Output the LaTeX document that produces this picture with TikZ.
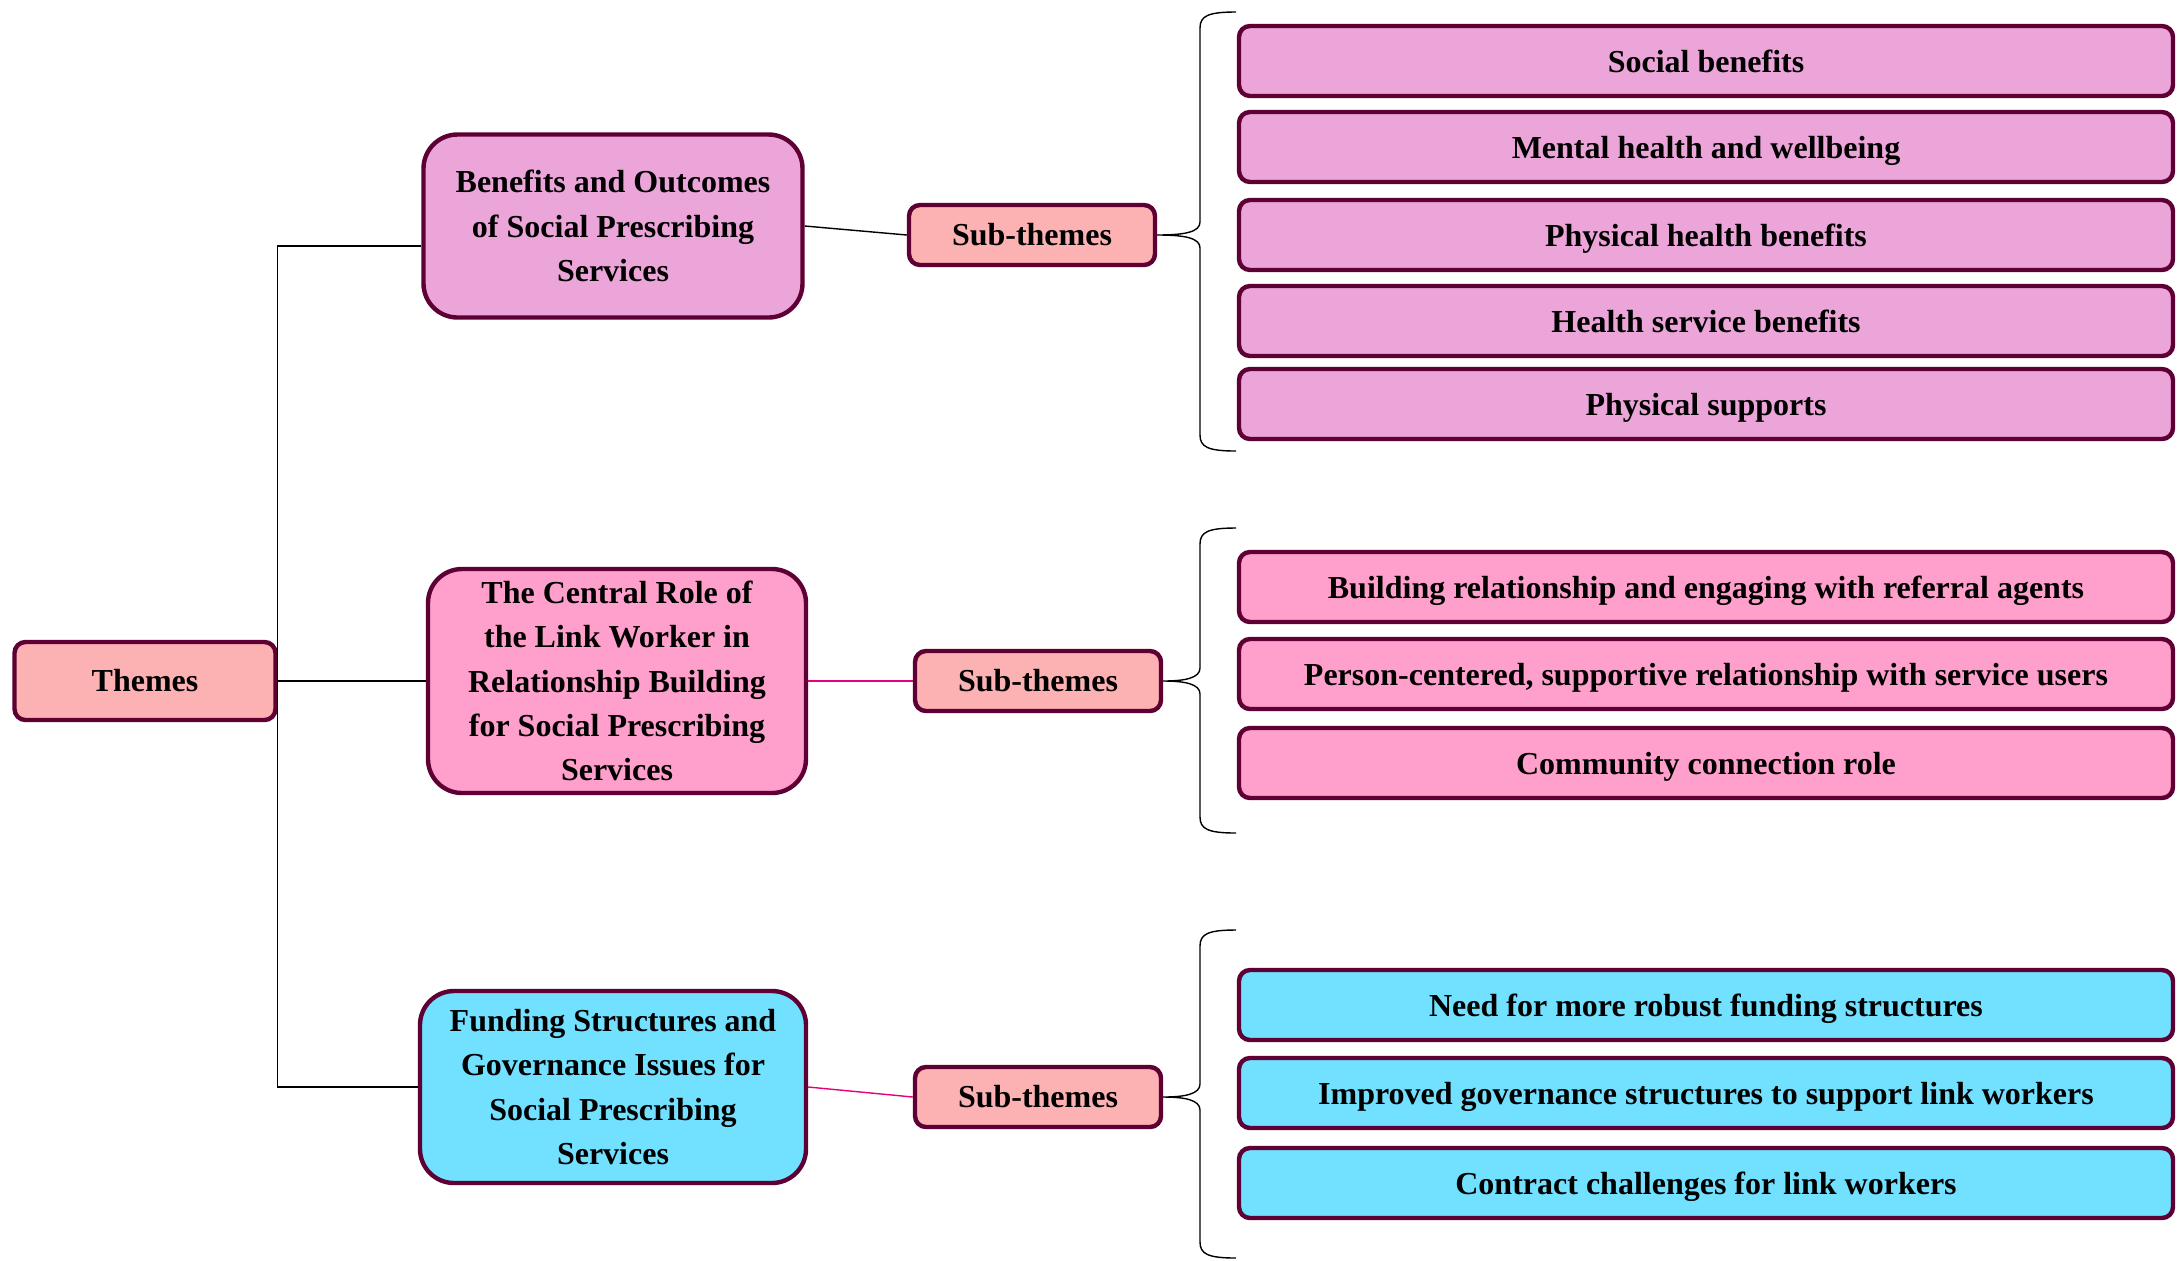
\documentclass[tikz,border=0pt]{standalone}
\usepackage{fontspec}
\setmainfont{Liberation Serif}
\definecolor{boxline}{HTML}{5E0033}
\definecolor{salmon}{HTML}{FCB2B2}
\definecolor{lilac}{HTML}{EBA5D9}
\definecolor{rose}{HTML}{FF9FCC}
\definecolor{aqua}{HTML}{72E0FF}
\definecolor{linkpink}{HTML}{E6007E}
\tikzset{
  box/.style={draw=boxline, line width=2.2pt, rounded corners=5.5pt, align=center,
    inner sep=0pt, font=\bfseries\fontsize{16}{22.2}\selectfont},
  theme/.style={box, rounded corners=17pt},
  subbox/.style={box, fill=salmon, minimum width=123pt, minimum height=30pt},
  item/.style={box, minimum width=467pt, minimum height=35pt, text depth=0pt},
  link/.style={line width=0.7pt},
}
\begin{document}
\begin{tikzpicture}[x=0.5pt,y=-0.5pt]
    \useasboundingbox (0,0) rectangle (2177,1260);
    % main themes
    \node[box, fill=salmon, minimum width=130.5pt, minimum height=39pt] (themes) at (145,681) {Themes};
    \node[theme, fill=lilac, minimum width=189.5pt, minimum height=91.5pt] (theme1) at (613,226)
        {Benefits and Outcomes\\of Social Prescribing\\Services};
    \node[theme, fill=rose, minimum width=189pt, minimum height=112pt] (theme2) at (617,681)
        {The Central Role of\\the Link Worker in\\Relationship Building\\for Social Prescribing\\Services};
    \node[theme, fill=aqua, minimum width=193pt, minimum height=96pt] (theme3) at (613,1087)
        {Funding Structures and\\Governance Issues for\\Social Prescribing\\Services};
    % sub-themes
    \node[subbox] (sub1) at (1032,235) {Sub-themes};
    \node[subbox] (sub2) at (1038,681) {Sub-themes};
    \node[subbox] (sub3) at (1038,1097) {Sub-themes};
    % items
    \foreach \y/\t [count=\i] in {61/Social benefits, 147/Mental health and wellbeing,
        235/Physical health benefits, 321/Health service benefits, 404/Physical supports}
        \node[item, fill=lilac] (a\i) at (1706,\y) {\t};
    \foreach \y/\t [count=\i] in {587/Building relationship and engaging with referral agents,
        674/{Person-centered, supportive relationship with service users}, 763/Community connection role}
        \node[item, fill=rose] (b\i) at (1706,\y) {\t};
    \foreach \y/\t [count=\i] in {1005/Need for more robust funding structures,
        1093/Improved governance structures to support link workers, 1183/Contract challenges for link workers}
        \node[item, fill=aqua] (c\i) at (1706,\y) {\t};
    % connectors
    \draw[link] (themes.east) -- (theme2.west);
    \draw[link] ([yshift=-10pt]theme1.west) -| (themes.east) |- (theme3.west);
    \draw[link] (theme1.east) -- (sub1.west);
    \draw[link, linkpink] (theme2.east) -- (sub2.west);
    \draw[link, linkpink] (theme3.east) -- (sub3.west);
    % braces
    \draw[link] (1236,12) .. controls (1208,12) and (1200,16) .. (1200,28) -- (1200,222)
        .. controls (1200,232) and (1185,235) .. (sub1.east)
        .. controls (1185,235) and (1200,238) .. (1200,248) -- (1200,435)
        .. controls (1200,447) and (1208,451) .. (1236,451);
    \draw[link] (1236,528) .. controls (1208,528) and (1200,532) .. (1200,544) -- (1200,668)
        .. controls (1200,678) and (1185,681) .. (sub2.east)
        .. controls (1185,681) and (1200,684) .. (1200,694) -- (1200,817)
        .. controls (1200,829) and (1208,833) .. (1236,833);
    \draw[link] (1236,930) .. controls (1208,930) and (1200,934) .. (1200,946) -- (1200,1084)
        .. controls (1200,1094) and (1185,1097) .. (sub3.east)
        .. controls (1185,1097) and (1200,1100) .. (1200,1110) -- (1200,1242)
        .. controls (1200,1254) and (1208,1258) .. (1236,1258);
\end{tikzpicture}
\end{document}
